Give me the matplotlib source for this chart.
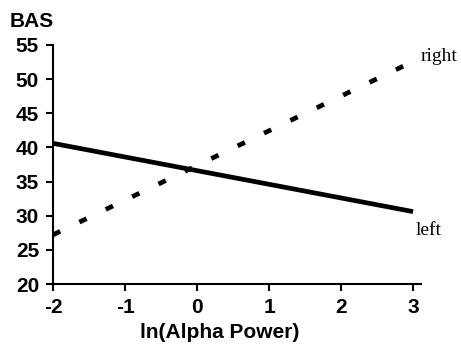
import matplotlib
matplotlib.use("Agg")
import matplotlib.pyplot as plt
import numpy as np

# valores
x_vals = [-2, 3]
left_vals = [40.6, 30.6]
right_vals = [27.2, 52.6]
x_ticks = [-2, -1, 0, 1, 2, 3]
y_ticks = [20, 25, 30, 35, 40, 45, 50, 55]

plt.rcParams["font.family"] = ["Liberation Sans", "DejaVu Sans"]
plt.rcParams["axes.unicode_minus"] = False

fig = plt.figure(figsize=(4.61, 3.44), dpi=100)
ax = fig.add_axes([53 / 461, 1 - 284 / 344, 368 / 461, 239 / 344])

ax.plot(x_vals, left_vals, color="black", lw=3.4, solid_capstyle="butt")
ax.plot(x_vals, right_vals, color="black", lw=3.4, dashes=(1.7, 4.5), dash_capstyle="butt")

ax.text(3.11, 53.3, "right", family="Liberation Serif", fontsize=14, va="center", ha="left")
ax.text(3.04, 27.9, "left", family="Liberation Serif", fontsize=14, va="center", ha="left")

ax.set_xlim(-2, 3.11)
ax.set_ylim(20, 55)
ax.set_xticks(x_ticks)
ax.set_yticks(y_ticks)
ax.tick_params(direction="out", length=5, width=1.5, labelsize=15, pad=5)
for lab in ax.get_xticklabels() + ax.get_yticklabels():
    lab.set_fontweight("bold")

for s in ["top", "right"]:
    ax.spines[s].set_visible(False)
for s in ["left", "bottom"]:
    ax.spines[s].set_linewidth(1.5)

fig.text(220 / 461, 1 - 332 / 344, "ln(Alpha Power)", fontsize=15, fontweight="bold",
         va="center", ha="center")
fig.text(10 / 461, 1 - 21.5 / 344, "BAS", fontsize=15, fontweight="bold", va="center", ha="left")

fig.savefig("out.png", dpi=100)
